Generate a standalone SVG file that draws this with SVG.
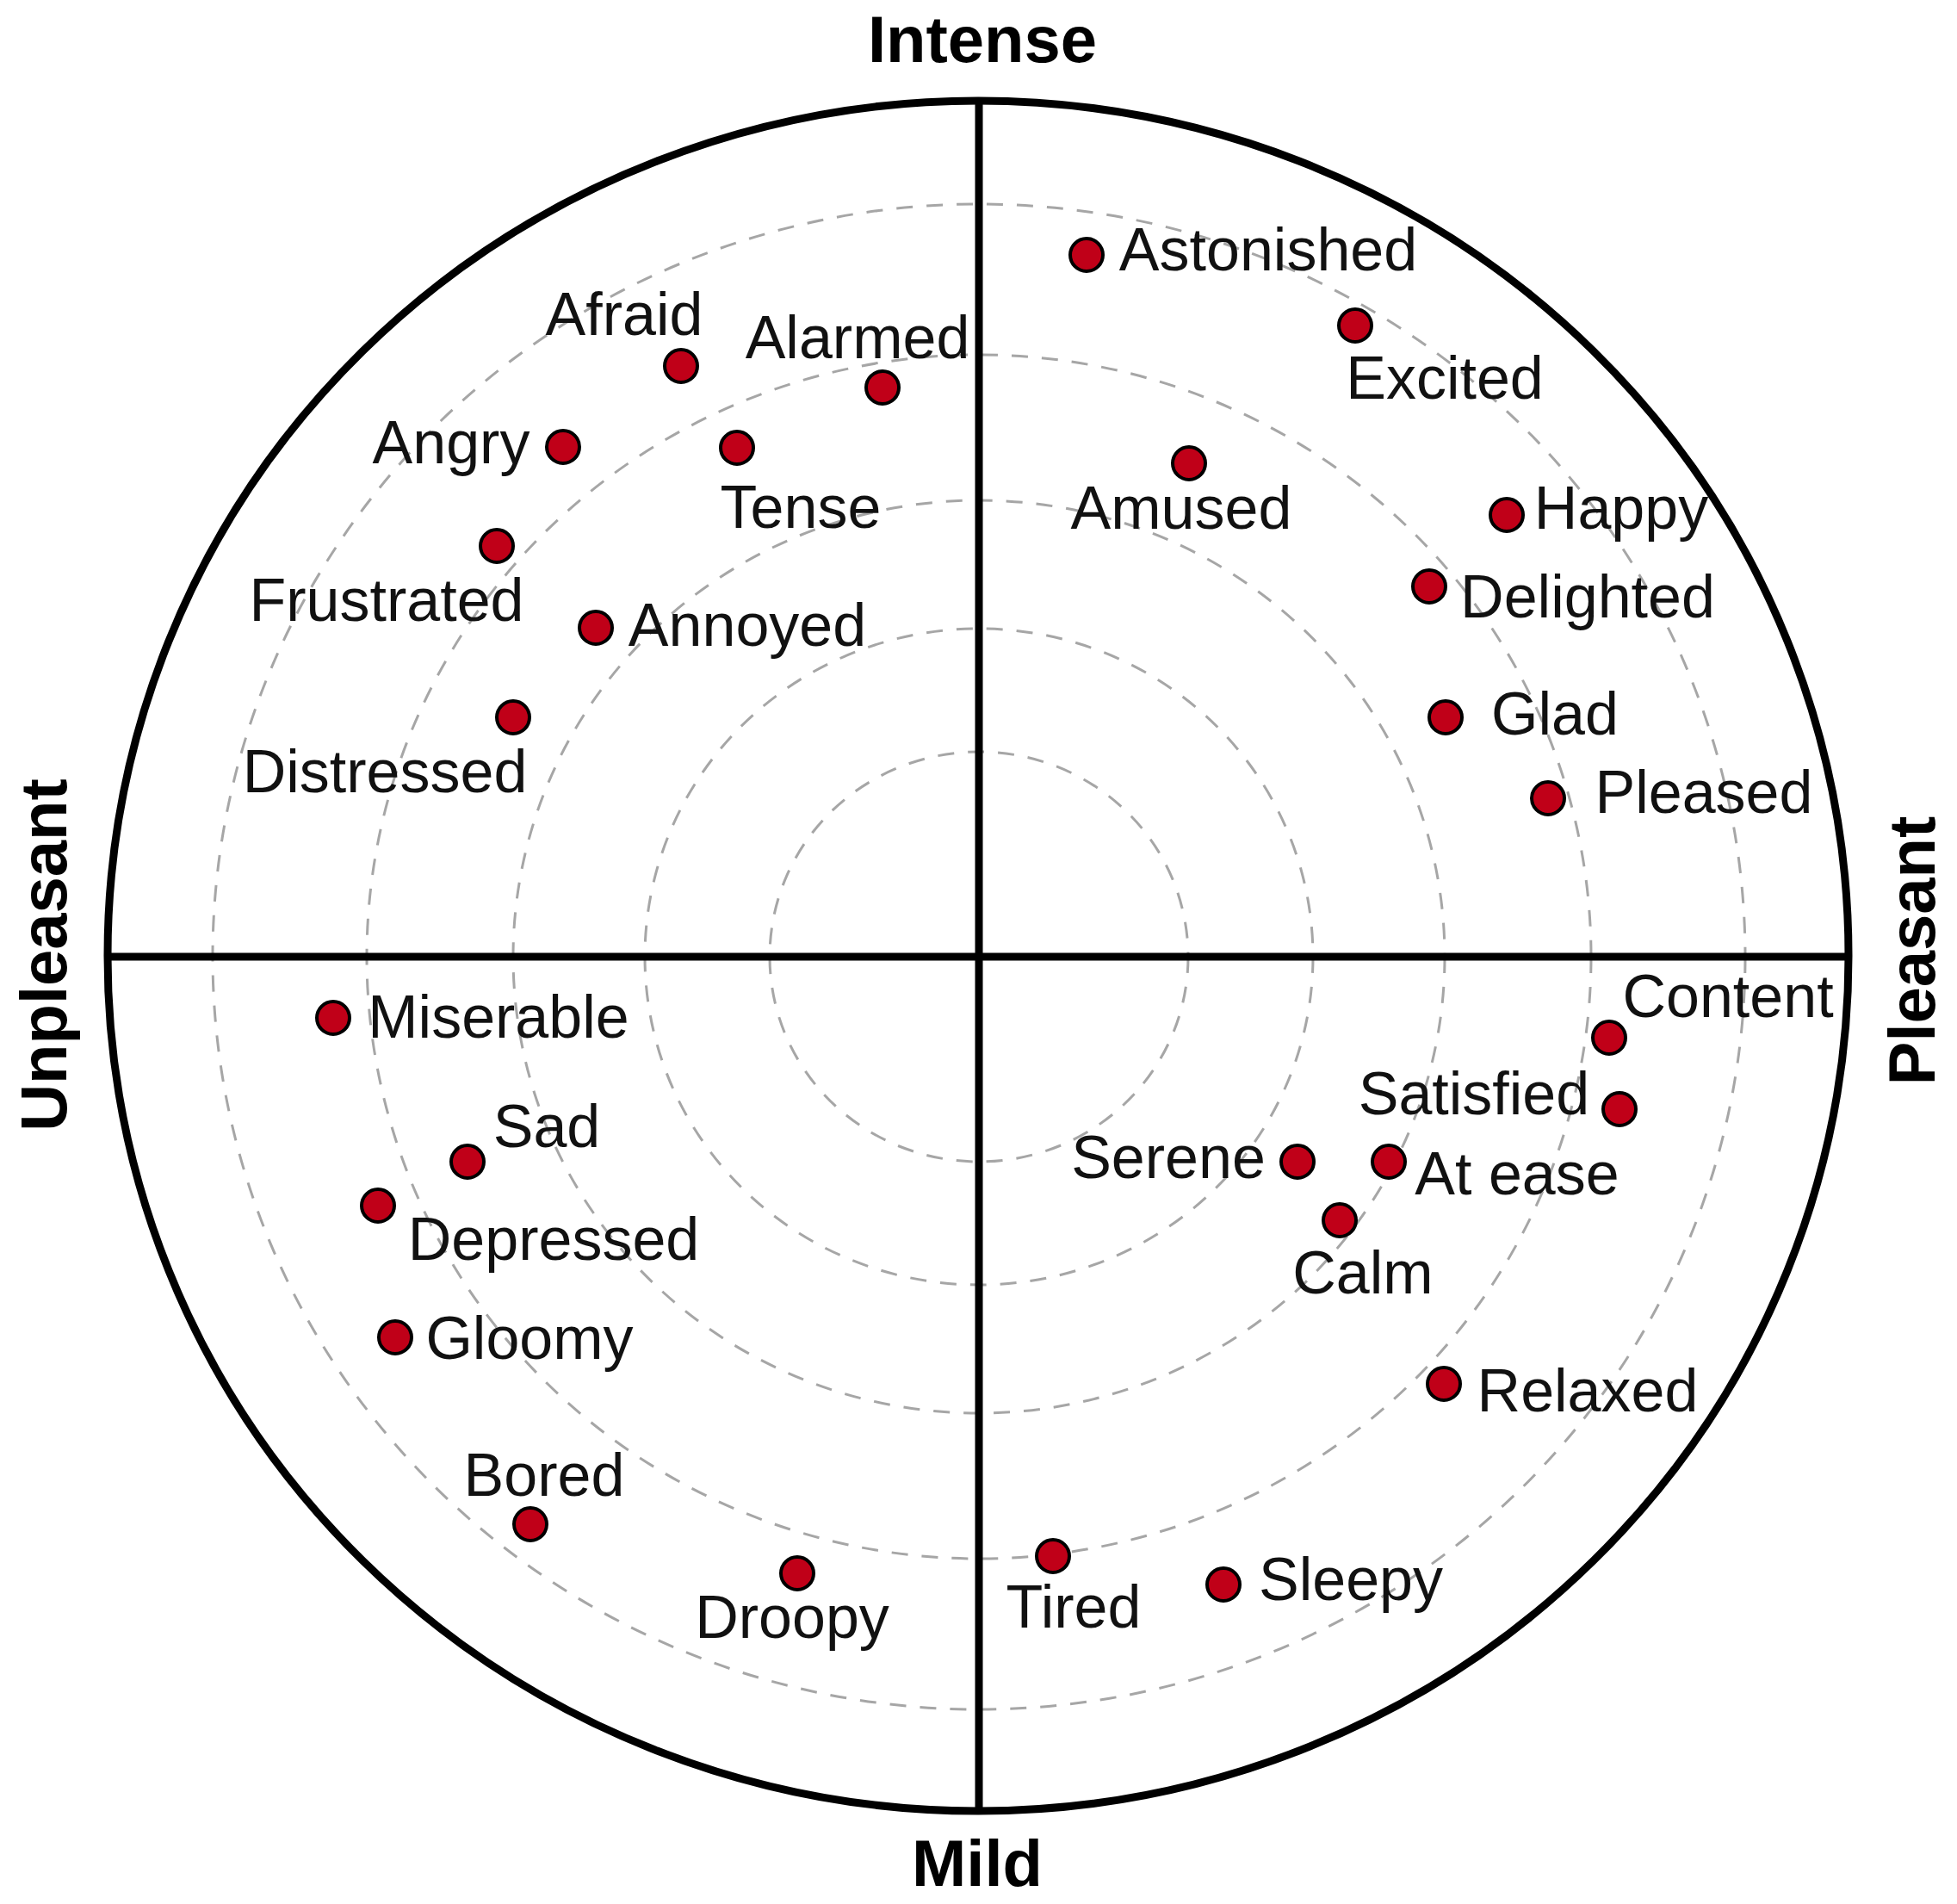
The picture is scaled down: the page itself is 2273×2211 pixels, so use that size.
<svg xmlns="http://www.w3.org/2000/svg" width="2273" height="2211" viewBox="0 0 2273 2211">
<style>
.ring{fill:none;stroke:#a6a6a6;stroke-width:3;stroke-dasharray:19 16}
.axis{stroke:#000;stroke-width:9;fill:none}
.dot{fill:#c00018;stroke:#000;stroke-width:4}
.lbl{font-family:"Liberation Sans",Arial,sans-serif;font-size:70px;fill:#111;text-anchor:middle}
.ax{font-family:"Liberation Sans",Arial,sans-serif;font-size:76px;font-weight:bold;fill:#000;text-anchor:middle}
</style>
<rect width="2273" height="2211" fill="#fff"/>
<g id="rings">
<ellipse class="ring" cx="1137" cy="1111" rx="243" ry="238"/>
<ellipse class="ring" cx="1137" cy="1111" rx="388" ry="381"/>
<ellipse class="ring" cx="1137" cy="1111" rx="541" ry="530"/>
<ellipse class="ring" cx="1137" cy="1111" rx="711" ry="699"/>
<ellipse class="ring" cx="1137" cy="1111" rx="890" ry="874"/>
</g>
<g id="frame">
<ellipse class="axis" cx="1136" cy="1110" rx="1011" ry="993"/>
<line class="axis" x1="1137" y1="117" x2="1137" y2="2102"/>
<line class="axis" x1="125" y1="1111" x2="2147" y2="1111"/>
</g>
<g id="axis-labels">
<text class="ax" x="1141" y="72">Intense</text>
<text class="ax" x="1135" y="2190">Mild</text>
<text class="ax" transform="translate(77,1109) rotate(-90)">Unpleasant</text>
<text class="ax" transform="translate(2247,1104) rotate(-90)">Pleasant</text>
</g>
<g id="afraid"><circle class="dot" cx="791" cy="425" r="19"/><text class="lbl" x="725" y="389">Afraid</text></g>
<g id="alarmed"><circle class="dot" cx="1025" cy="450" r="19"/><text class="lbl" x="996" y="416">Alarmed</text></g>
<g id="angry"><circle class="dot" cx="654" cy="519" r="19"/><text class="lbl" x="524" y="538">Angry</text></g>
<g id="tense"><circle class="dot" cx="856" cy="520" r="19"/><text class="lbl" x="930" y="613">Tense</text></g>
<g id="frustrated"><circle class="dot" cx="577" cy="634" r="19"/><text class="lbl" x="449" y="721">Frustrated</text></g>
<g id="annoyed"><circle class="dot" cx="692" cy="729" r="19"/><text class="lbl" x="868" y="750">Annoyed</text></g>
<g id="distressed"><circle class="dot" cx="596" cy="833" r="19"/><text class="lbl" x="447" y="920">Distressed</text></g>
<g id="astonished"><circle class="dot" cx="1262" cy="296" r="19"/><text class="lbl" x="1473" y="314">Astonished</text></g>
<g id="excited"><circle class="dot" cx="1574" cy="378" r="19"/><text class="lbl" x="1678" y="463">Excited</text></g>
<g id="amused"><circle class="dot" cx="1381" cy="538" r="19"/><text class="lbl" x="1372" y="614">Amused</text></g>
<g id="happy"><circle class="dot" cx="1750" cy="598" r="19"/><text class="lbl" x="1883" y="614">Happy</text></g>
<g id="delighted"><circle class="dot" cx="1660" cy="681" r="19"/><text class="lbl" x="1844" y="717">Delighted</text></g>
<g id="glad"><circle class="dot" cx="1679" cy="833" r="19"/><text class="lbl" x="1806" y="853">Glad</text></g>
<g id="pleased"><circle class="dot" cx="1798" cy="927" r="19"/><text class="lbl" x="1979" y="944">Pleased</text></g>
<g id="miserable"><circle class="dot" cx="387" cy="1182" r="19"/><text class="lbl" x="579" y="1205">Miserable</text></g>
<g id="sad"><circle class="dot" cx="543" cy="1349" r="19"/><text class="lbl" x="635" y="1332">Sad</text></g>
<g id="depressed"><circle class="dot" cx="439" cy="1400" r="19"/><text class="lbl" x="643" y="1463">Depressed</text></g>
<g id="gloomy"><circle class="dot" cx="459" cy="1553" r="19"/><text class="lbl" x="615" y="1578">Gloomy</text></g>
<g id="bored"><circle class="dot" cx="616" cy="1770" r="19"/><text class="lbl" x="632" y="1737">Bored</text></g>
<g id="droopy"><circle class="dot" cx="926" cy="1827" r="19"/><text class="lbl" x="920" y="1902">Droopy</text></g>
<g id="content"><circle class="dot" cx="1869" cy="1205" r="19"/><text class="lbl" x="2007" y="1181">Content</text></g>
<g id="satisfied"><circle class="dot" cx="1881" cy="1288" r="19"/><text class="lbl" x="1712" y="1294">Satisfied</text></g>
<g id="serene"><circle class="dot" cx="1507" cy="1349" r="19"/><text class="lbl" x="1357" y="1368">Serene</text></g>
<g id="at-ease"><circle class="dot" cx="1613" cy="1349" r="19"/><text class="lbl" x="1762" y="1387">At ease</text></g>
<g id="calm"><circle class="dot" cx="1556" cy="1417" r="19"/><text class="lbl" x="1583" y="1502">Calm</text></g>
<g id="relaxed"><circle class="dot" cx="1677" cy="1607" r="19"/><text class="lbl" x="1844" y="1639">Relaxed</text></g>
<g id="tired"><circle class="dot" cx="1223" cy="1807" r="19"/><text class="lbl" x="1247" y="1890">Tired</text></g>
<g id="sleepy"><circle class="dot" cx="1421" cy="1840" r="19"/><text class="lbl" x="1569" y="1858">Sleepy</text></g>
</svg>
